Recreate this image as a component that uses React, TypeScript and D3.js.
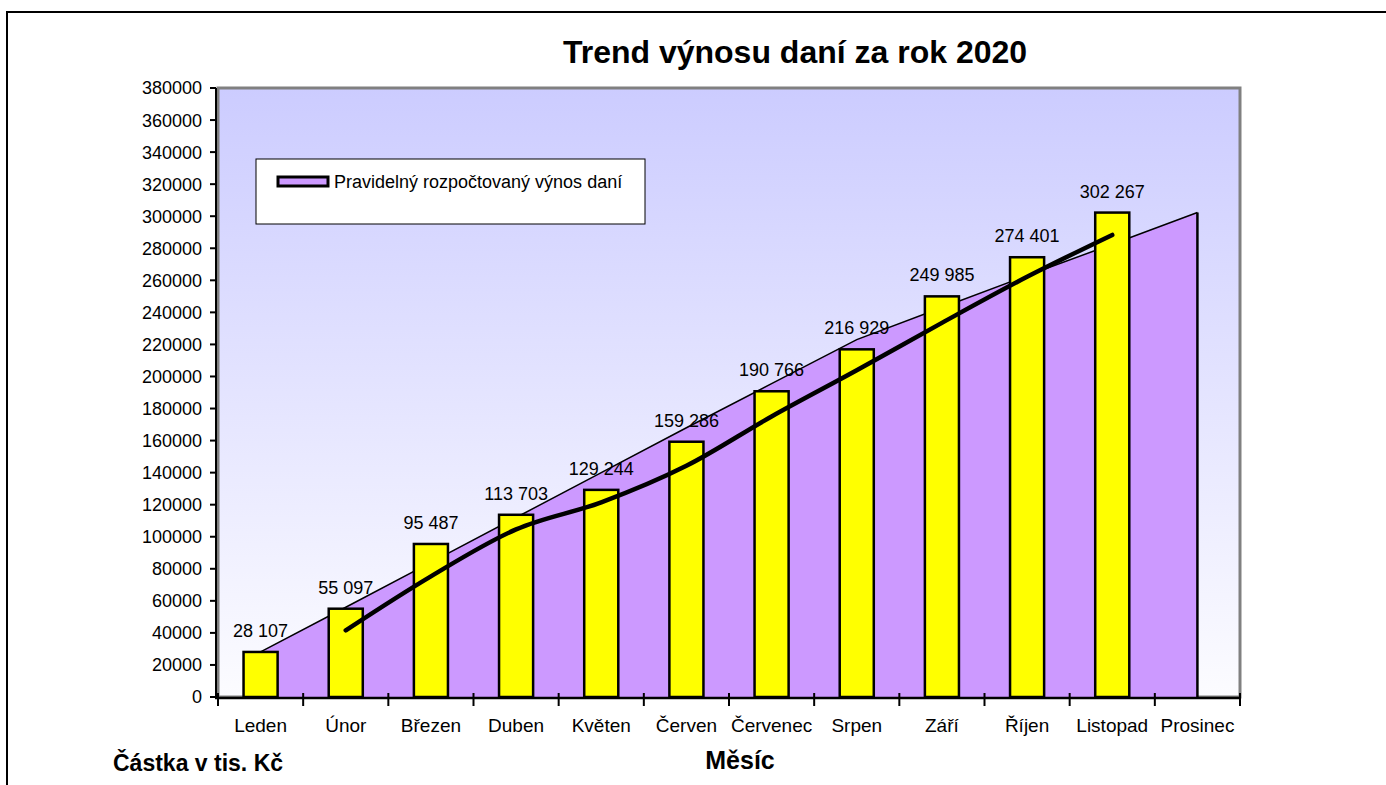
import React, { useEffect, useRef } from 'react';
import * as d3 from 'd3';

const months = [
  'Leden', 'Únor', 'Březen', 'Duben', 'Květen', 'Červen',
  'Červenec', 'Srpen', 'Září', 'Říjen', 'Listopad', 'Prosinec',
];

// skutečný výnos (bars), Leden..Listopad
const actual = [28107, 55097, 95487, 113703, 129244, 159286, 190766, 216929, 249985, 274401, 302267];

// pravidelný rozpočtovaný výnos (area), Leden..Prosinec
const budget = [28107, 56000, 84000, 112000, 140000, 168000, 195500, 223000, 243000, 263000, 282500, 302267];

// klouzavý průměr (2 období), Únor..Listopad
const trend = [41602, 75292, 104595, 121473, 144265, 175026, 203847, 233457, 262193, 288334];

const yTicks = [
  0, 20000, 40000, 60000, 80000, 100000, 120000, 140000, 160000, 180000,
  200000, 220000, 240000, 260000, 280000, 300000, 320000, 340000, 360000, 380000,
];

const W = 1386;
const H = 785;
const FONT = '"Liberation Sans", Arial, sans-serif';

const fmt = d3.formatLocale({ decimal: ',', thousands: ' ', grouping: [3], currency: ['', ' Kč'] }).format(',');

const chart = (svg: d3.Selection<SVGSVGElement, any, any, any>) => {
  const left = 218;
  const right = 1240;
  const top = 88;
  const bottom = 697;

  const x = d3.scaleBand<string>().domain(months).range([left, right]).padding(0);
  const y = d3.scaleLinear().domain([0, 380000]).range([bottom, top]);
  const cx = (m: string) => (x(m) as number) + x.bandwidth() / 2;
  const barW = x.bandwidth() * 0.4;

  const defs = svg.append('defs');
  const grad = defs
    .append('linearGradient')
    .attr('id', 'bg')
    .attr('x1', 0)
    .attr('y1', 0)
    .attr('x2', 0)
    .attr('y2', 1);
  grad.append('stop').attr('offset', '0%').attr('stop-color', '#CCCCFF');
  grad.append('stop').attr('offset', '100%').attr('stop-color', '#FCFCFF');

  // outer frame
  svg
    .append('path')
    .attr('d', `M7,${H} L7,12 L${W},12`)
    .attr('fill', 'none')
    .attr('stroke', '#000')
    .attr('stroke-width', 2);

  // title
  svg
    .append('text')
    .attr('x', 795)
    .attr('y', 63)
    .attr('text-anchor', 'middle')
    .style('font', `bold 32px ${FONT}`)
    .text('Trend výnosu daní za rok 2020');

  // plot area
  svg
    .append('rect')
    .attr('x', left)
    .attr('y', top)
    .attr('width', right - left)
    .attr('height', bottom - top)
    .attr('fill', 'url(#bg)')
    .attr('stroke', '#808080')
    .attr('stroke-width', 3);

  // area
  const area = d3
    .area<number>()
    .x((_, i) => cx(months[i]))
    .y0(y(0))
    .y1((d) => y(d));
  svg.append('path').datum(budget).attr('d', area).attr('fill', '#CC99FF');

  const topLine = d3
    .line<number>()
    .x((_, i) => cx(months[i]))
    .y((d) => y(d));
  svg
    .append('path')
    .datum(budget)
    .attr('d', topLine)
    .attr('fill', 'none')
    .attr('stroke', '#000')
    .attr('stroke-width', 1.5);
  const last = budget.length - 1;
  svg
    .append('line')
    .attr('x1', cx(months[last]))
    .attr('x2', cx(months[last]))
    .attr('y1', y(budget[last]))
    .attr('y2', y(0))
    .attr('stroke', '#000')
    .attr('stroke-width', 2.5);

  // bars
  svg
    .append('g')
    .selectAll('rect')
    .data(actual)
    .join('rect')
    .attr('x', (_, i) => cx(months[i]) - barW / 2)
    .attr('y', (d) => y(d))
    .attr('width', barW)
    .attr('height', (d) => y(0) - y(d))
    .attr('fill', '#FFFF00')
    .attr('stroke', '#000')
    .attr('stroke-width', 2.5);

  // trend line
  const trendLine = d3
    .line<number>()
    .x((_, i) => cx(months[i + 1]))
    .y((d) => y(d))
    .curve(d3.curveMonotoneX);
  svg
    .append('path')
    .datum(trend)
    .attr('d', trendLine)
    .attr('fill', 'none')
    .attr('stroke', '#000')
    .attr('stroke-width', 4.5)
    .attr('stroke-linecap', 'round');

  // data labels
  svg
    .append('g')
    .style('font', `18px ${FONT}`)
    .attr('text-anchor', 'middle')
    .selectAll('text')
    .data(actual)
    .join('text')
    .attr('x', (_, i) => cx(months[i]))
    .attr('y', (d) => y(d) - 15)
    .text((d) => fmt(d));

  // y axis
  const yAxis = svg.append('g');
  yAxis
    .append('line')
    .attr('x1', left - 2)
    .attr('x2', left - 2)
    .attr('y1', top)
    .attr('y2', bottom)
    .attr('stroke', '#000')
    .attr('stroke-width', 2);
  yAxis
    .selectAll('line.tick')
    .data(yTicks)
    .join('line')
    .attr('class', 'tick')
    .attr('x1', left - 8)
    .attr('x2', left - 2)
    .attr('y1', (d) => y(d))
    .attr('y2', (d) => y(d))
    .attr('stroke', '#000')
    .attr('stroke-width', 2);
  yAxis
    .selectAll('text')
    .data(yTicks)
    .join('text')
    .attr('x', left - 16)
    .attr('y', (d) => y(d))
    .attr('dy', '0.36em')
    .attr('text-anchor', 'end')
    .style('font', `18px ${FONT}`)
    .text((d) => String(d));

  // x axis
  const xAxis = svg.append('g');
  xAxis
    .append('line')
    .attr('x1', left - 3)
    .attr('x2', right + 1)
    .attr('y1', bottom + 1)
    .attr('y2', bottom + 1)
    .attr('stroke', '#000')
    .attr('stroke-width', 2.5);
  const bounds = [...months.map((m) => x(m) as number), right];
  xAxis
    .selectAll('line.tick')
    .data(bounds)
    .join('line')
    .attr('class', 'tick')
    .attr('x1', (d) => d)
    .attr('x2', (d) => d)
    .attr('y1', bottom - 4)
    .attr('y2', bottom + 9)
    .attr('stroke', '#000')
    .attr('stroke-width', 2);
  xAxis
    .selectAll('text')
    .data(months)
    .join('text')
    .attr('x', (d) => cx(d))
    .attr('y', 732)
    .attr('text-anchor', 'middle')
    .style('font', `19px ${FONT}`)
    .text((d) => d);

  // axis titles
  svg
    .append('text')
    .attr('x', 113)
    .attr('y', 771)
    .style('font', `bold 23px ${FONT}`)
    .text('Částka v tis. Kč');
  svg
    .append('text')
    .attr('x', 740)
    .attr('y', 769)
    .attr('text-anchor', 'middle')
    .style('font', `bold 25px ${FONT}`)
    .text('Měsíc');

  // legend
  const lg = svg.append('g');
  lg.append('rect')
    .attr('x', 256)
    .attr('y', 159)
    .attr('width', 389)
    .attr('height', 65)
    .attr('fill', '#fff')
    .attr('stroke', '#000')
    .attr('stroke-width', 1);
  lg.append('rect')
    .attr('x', 278)
    .attr('y', 177)
    .attr('width', 50)
    .attr('height', 9)
    .attr('fill', '#CC99FF')
    .attr('stroke', '#000')
    .attr('stroke-width', 3);
  lg.append('text')
    .attr('x', 334)
    .attr('y', 188)
    .style('font', `18px ${FONT}`)
    .text('Pravidelný rozpočtovaný výnos daní');
};

export default function App() {
  const svgRef = useRef<SVGSVGElement>(null);

  useEffect(() => {
    if (svgRef.current === null) {
      return;
    }
    const svgEl: d3.Selection<SVGSVGElement, any, any, any> = d3.select(svgRef.current);
    svgEl.selectAll('*').remove();
    chart(svgEl);
  }, []);

  return (
    <div style={{ position: 'absolute', left: 0, top: 0 }}>
      <svg ref={svgRef} width={W} height={H} style={{ display: 'block', background: '#fff' }}></svg>
    </div>
  );
}
